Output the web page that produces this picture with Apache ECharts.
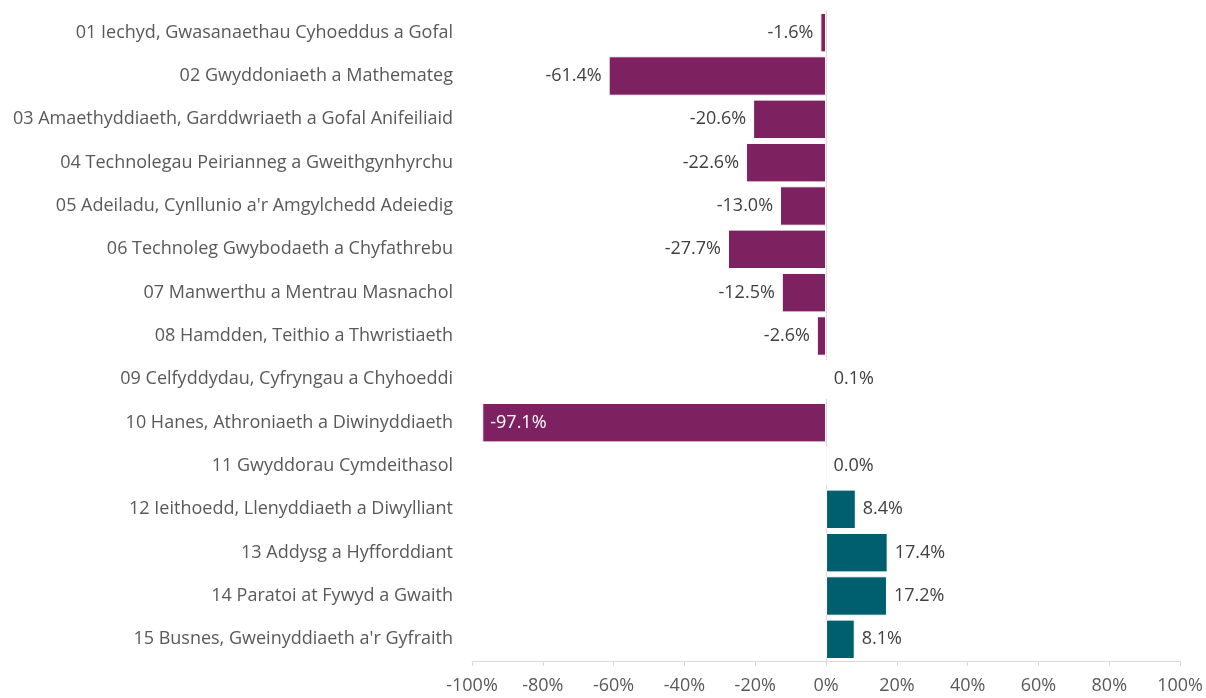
<!DOCTYPE html>
<html>
<head>
<meta charset="utf-8">
<script src="https://cdn.jsdelivr.net/npm/echarts@6/dist/echarts.min.js"></script>
<style>
html,body{margin:0;padding:0;background:#fff;}
#chart{width:1206px;height:698px;}
</style>
</head>
<body>
<div id="chart"></div>
<script>
//类别名称
var categories = ['01 Iechyd, Gwasanaethau Cyhoeddus a Gofal', '02 Gwyddoniaeth a Mathemateg', '03 Amaethyddiaeth, Garddwriaeth a Gofal Anifeiliaid', '04 Technolegau Peirianneg a Gweithgynhyrchu', '05 Adeiladu, Cynllunio a\'r Amgylchedd Adeiedig', '06 Technoleg Gwybodaeth a Chyfathrebu', '07 Manwerthu a Mentrau Masnachol', '08 Hamdden, Teithio a Thwristiaeth', '09 Celfyddydau, Cyfryngau a Chyhoeddi', '10 Hanes, Athroniaeth a Diwinyddiaeth', '11 Gwyddorau Cymdeithasol', '12 Ieithoedd, Llenyddiaeth a Diwylliant', '13 Addysg a Hyfforddiant', '14 Paratoi at Fywyd a Gwaith', '15 Busnes, Gweinyddiaeth a\'r Gyfraith'];
//百分比变化
var values = [-1.6, -61.4, -20.6, -22.6, -13.0, -27.7, -12.5, -2.6, 0.1, -97.1, 0.0, 8.4, 17.4, 17.2, 8.1];
//横轴刻度
var xTicks = [-100, -80, -60, -40, -20, 0, 20, 40, 60, 80, 100];

var negColor = '#7E2160';
var posColor = '#005F6E';
var font = '"Open Sans", "Noto Sans", sans-serif';

var barData = [];
for (var i = 0; i < values.length; i++) {
	var v = values[i];
	var item = {
		value: v,
		itemStyle: { color: v < 0 ? negColor : posColor }
	};
	if (v <= -80) {
		//条太长，标签放在条内
		item.label = { position: 'insideLeft', color: '#fff', distance: 8 };
	} else if (v < 0) {
		item.label = { position: 'left' };
	}
	barData.push(item);
}

var mychart = echarts.init(document.getElementById('chart'));
var option = {
	animation: false,
	grid: {
		left: 472,
		right: 25,
		top: 11,
		bottom: 37,
		containLabel: false
	},
	xAxis: {
		type: 'value',
		min: xTicks[0],
		max: xTicks[xTicks.length - 1],
		interval: 20,
		axisLine: { show: true, lineStyle: { color: '#d9d9d9' } },
		axisTick: { show: true, length: 5, lineStyle: { color: '#d9d9d9' } },
		splitLine: { show: false },
		axisLabel: {
			color: '#595959',
			fontSize: 18,
			fontFamily: font,
			margin: 16,
			formatter: function (v) { return v + '%'; }
		}
	},
	yAxis: {
		type: 'category',
		data: categories,
		inverse: true,
		axisLine: { show: true, onZero: true, lineStyle: { color: '#d9d9d9' } },
		axisTick: { show: false },
		axisLabel: {
			color: '#595959',
			fontSize: 18,
			fontFamily: font,
			margin: 19
		}
	},
	series: [{
		type: 'bar',
		data: barData,
		barCategoryGap: '9%',
		itemStyle: { borderColor: '#fff', borderWidth: 1 },
		label: {
			show: true,
			position: 'right',
			distance: 7,
			color: '#404040',
			fontSize: 18,
			fontFamily: font,
			formatter: function (p) { return p.value.toFixed(1) + '%'; }
		}
	}]
};
mychart.setOption(option);
</script>
</body>
</html>
